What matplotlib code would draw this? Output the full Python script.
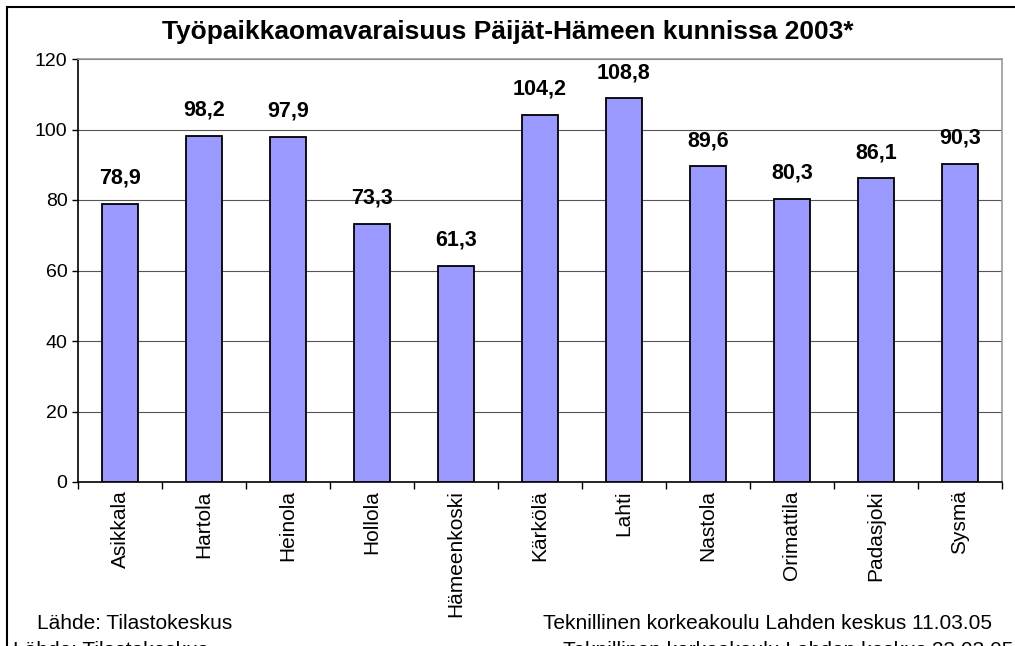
import matplotlib.pyplot as plt
import numpy as np
from matplotlib.patches import Rectangle

plt.rcParams['font.family'] = ['Liberation Sans', 'DejaVu Sans']

kunnat = ["Asikkala", "Hartola", "Heinola", "Hollola", "Hämeenkoski", "Kärkölä",
          "Lahti", "Nastola", "Orimattila", "Padasjoki", "Sysmä"]
omavaraisuus = [78.9, 98.2, 97.9, 73.3, 61.3, 104.2, 108.8, 89.6, 80.3, 86.1, 90.3]
y_ticks = [0, 20, 40, 60, 80, 100, 120]

W, H = 1015, 646
fig = plt.figure(figsize=(W / 100, H / 100), dpi=100)
ax = fig.add_axes([78 / W, 1 - 482 / H, (1002 - 78) / W, (482 - 59) / H])

x = np.arange(len(kunnat))
ax.bar(x, omavaraisuus, width=0.42, color="#9999FF", edgecolor="black", linewidth=1.3, zorder=3)

for xi, v in zip(x, omavaraisuus):
    ax.annotate(f"{v:.1f}".replace(".", ","), (xi, v), xytext=(0, 14.5), textcoords="offset points",
                ha="center", va="baseline", fontsize=15.5, fontweight="bold")

ax.set_xlim(-0.5, len(kunnat) - 0.5)
ax.set_ylim(0, 120)
ax.set_yticks(y_ticks)
ax.tick_params(axis="y", labelsize=14, length=4.5, width=1, direction="out", pad=3)
ax.set_xticks(x)
ax.set_xticklabels(kunnat, rotation=90, fontsize=15)
ax.tick_params(axis="x", length=0, pad=6)
ax.set_xticks(np.arange(len(kunnat) + 1) - 0.5, minor=True)
ax.tick_params(axis="x", which="minor", length=5, width=1, direction="out")
ax.yaxis.grid(True, color="#555555", linewidth=0.8, zorder=0)
ax.set_axisbelow(True)

for s in ["top", "right"]:
    ax.spines[s].set_color("#999999")
    ax.spines[s].set_linewidth(1.2)
for s in ["left", "bottom"]:
    ax.spines[s].set_color("black")
    ax.spines[s].set_linewidth(1.2)

fig.text(0.5, 1 - 32 / H, "Työpaikkaomavaraisuus Päijät-Hämeen kunnissa 2003*",
         ha="center", va="center", fontsize=19, fontweight="bold")

fig.text(37 / W, 1 - 629 / H, "Lähde: Tilastokeskus", ha="left", va="baseline", fontsize=15)
fig.text(992 / W, 1 - 629 / H, "Teknillinen korkeakoulu Lahden keskus 11.03.05",
         ha="right", va="baseline", fontsize=15)
fig.text(13 / W, 1 - 656 / H, "Lähde: Tilastokeskus", ha="left", va="baseline", fontsize=15)
fig.text(563 / W, 1 - 656 / H, "Teknillinen korkeakoulu Lahden keskus 23.03.05",
         ha="left", va="baseline", fontsize=15)

frame = Rectangle((7 / W, -0.1), 1.2, 1.1 - 7 / H, transform=fig.transFigure,
                  fill=False, edgecolor="black", linewidth=1.5)
fig.add_artist(frame)

fig.savefig("out.png", dpi=100)
